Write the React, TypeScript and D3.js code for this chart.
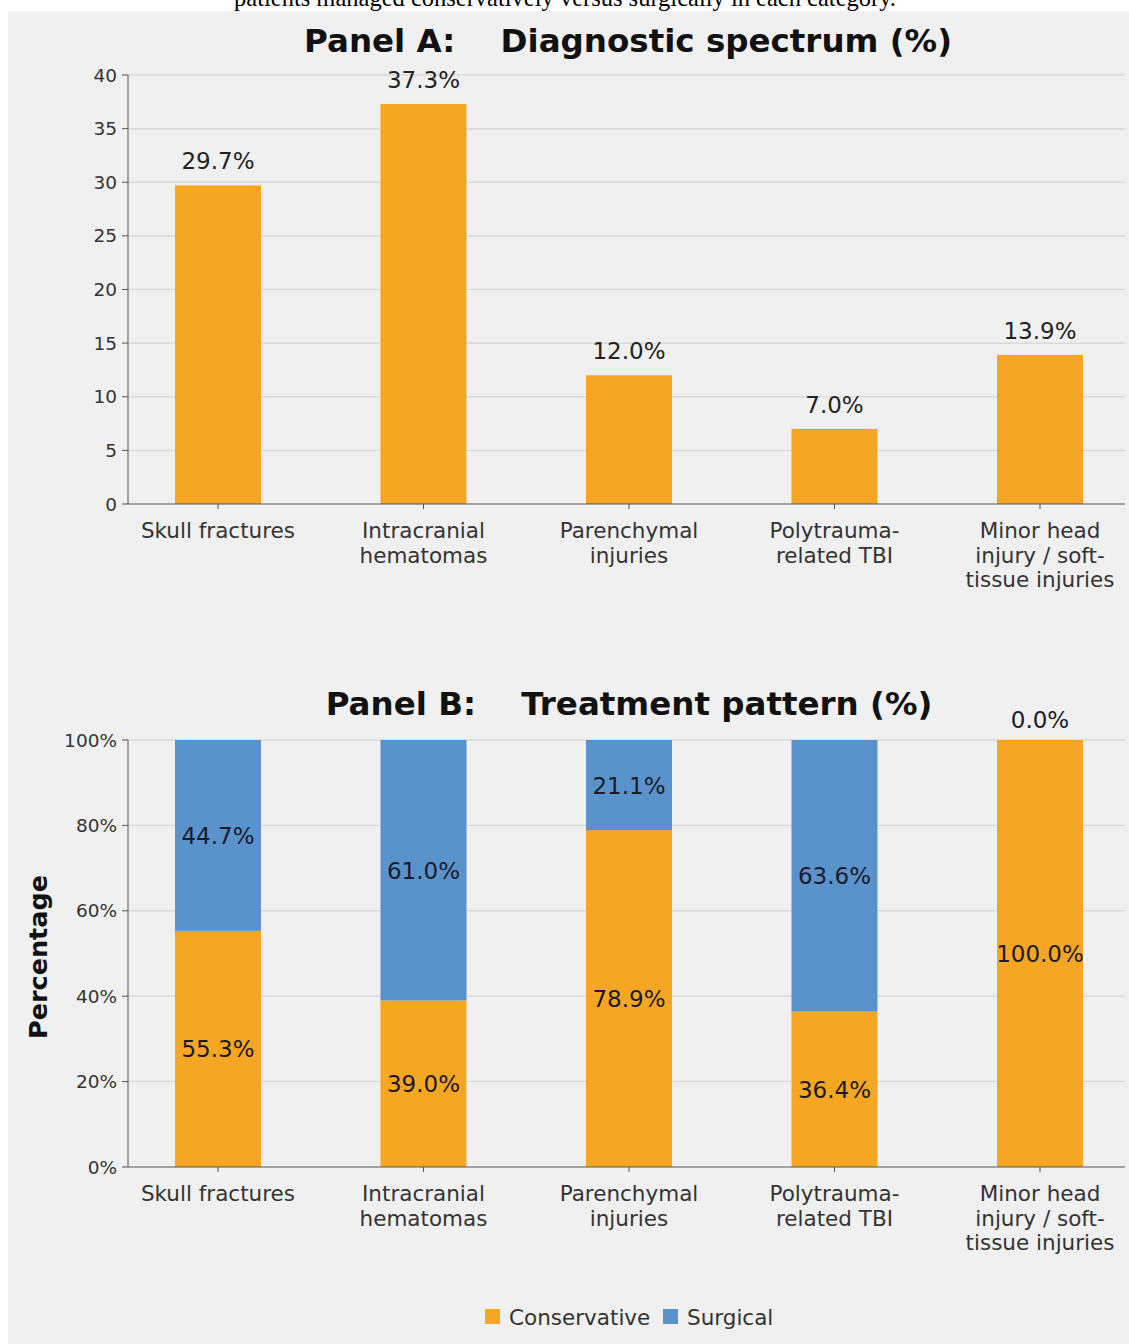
import React from "react";
import * as d3 from "d3";

const categories = [
  ["Skull fractures"],
  ["Intracranial", "hematomas"],
  ["Parenchymal", "injuries"],
  ["Polytrauma-", "related TBI"],
  ["Minor head", "injury / soft-", "tissue injuries"],
];
const catKeys = categories.map((c) => c.join(" "));
const diagnostic = [29.7, 37.3, 12.0, 7.0, 13.9];
const conservative = [55.3, 39.0, 78.9, 36.4, 100.0];
const surgical = [44.7, 61.0, 21.1, 63.6, 0.0];
const ticksA = [0, 5, 10, 15, 20, 25, 30, 35, 40];
const ticksB = [0, 20, 40, 60, 80, 100];

const ORANGE = "#f5a623";
const BLUE = "#5a93cb";
const BG = "#f0f0f0";
const FONT = "DejaVu Sans, sans-serif";

export default function App() {
  const W = 1129, H = 1344;
  const axisX = 128, rightX = 1125;
  const x = d3.scalePoint<string>().domain(catKeys).range([218, 1040]);
  const bw = 86;
  const yA = d3.scaleLinear().domain([0, 40]).range([504, 75]);
  const yB = d3.scaleLinear().domain([0, 100]).range([1167, 740]);
  const valFs = 23;

  const xLabels = (base: number) =>
    categories.map((lines, i) => (
      <g key={i}>
        <line x1={x(catKeys[i])} x2={x(catKeys[i])} y1={base} y2={base + 5} stroke="#555" />
        {lines.map((l, j) => (
          <text key={j} x={x(catKeys[i])} y={base + 34 + j * 24.5} textAnchor="middle" fontSize={21.5} fill="#333">{l}</text>
        ))}
      </g>
    ));

  return (
    <svg width={W} height={H} style={{ position: "absolute", left: 0, top: 0 }} fontFamily={FONT}>
      <rect x={0} y={0} width={W} height={H} fill="#fff" />
      <text x={565} y={6} textAnchor="middle" fontFamily="Liberation Serif, Times New Roman, serif" fontSize={24.5} fill="#000">patients managed conservatively versus surgically in each category.</text>
      <rect x={8} y={11} width={W - 8} height={H - 11} fill={BG} />

      {/* Panel A */}
      <text x={628} y={52} textAnchor="middle" fontSize={32.5} fontWeight="bold" fill="#111" style={{ whiteSpace: "pre" }}>{"Panel A:    Diagnostic spectrum (%)"}</text>
      {ticksA.map((t) => (
        <g key={t}>
          {t > 0 && <line x1={axisX} x2={rightX} y1={yA(t)} y2={yA(t)} stroke="#dadada" strokeWidth={1.5} />}
          <line x1={axisX - 6} x2={axisX} y1={yA(t)} y2={yA(t)} stroke="#555" />
          <text x={axisX - 11} y={yA(t) + 6.5} textAnchor="end" fontSize={18.5} fill="#333">{t}</text>
        </g>
      ))}
      {diagnostic.map((v, i) => (
        <g key={i}>
          <rect x={x(catKeys[i])! - bw / 2} y={yA(v)} width={bw} height={yA(0) - yA(v)} fill={ORANGE} />
          <text x={x(catKeys[i])} y={yA(v) - 16} textAnchor="middle" fontSize={valFs} fill="#222">{v.toFixed(1) + "%"}</text>
        </g>
      ))}
      <line x1={axisX} x2={axisX} y1={yA(40)} y2={yA(0)} stroke="#555" />
      <line x1={axisX} x2={rightX} y1={yA(0)} y2={yA(0)} stroke="#555" />
      {xLabels(504)}

      {/* Panel B */}
      <text x={629} y={715} textAnchor="middle" fontSize={32.5} fontWeight="bold" fill="#111" style={{ whiteSpace: "pre" }}>{"Panel B:    Treatment pattern (%)"}</text>
      {ticksB.map((t) => (
        <g key={t}>
          {t > 0 && <line x1={axisX} x2={rightX} y1={yB(t)} y2={yB(t)} stroke="#dadada" strokeWidth={1.5} />}
          <line x1={axisX - 6} x2={axisX} y1={yB(t)} y2={yB(t)} stroke="#555" />
          <text x={axisX - 11} y={yB(t) + 6.5} textAnchor="end" fontSize={18.5} fill="#333">{t + "%"}</text>
        </g>
      ))}
      {conservative.map((c, i) => {
        const s = surgical[i];
        const cx = x(catKeys[i])!;
        return (
          <g key={i}>
            <rect x={cx - bw / 2} y={yB(c)} width={bw} height={yB(0) - yB(c)} fill={ORANGE} />
            <rect x={cx - bw / 2} y={yB(c + s)} width={bw} height={yB(c) - yB(c + s)} fill={BLUE} />
            <text x={cx} y={yB(c / 2) + 8.5} textAnchor="middle" fontSize={valFs} fill="#1a1a2a">{c.toFixed(1) + "%"}</text>
            <text x={cx} y={s > 0 ? yB(c + s / 2) + 8.5 : yB(100) - 12} textAnchor="middle" fontSize={valFs} fill="#1a1a2a">{s.toFixed(1) + "%"}</text>
          </g>
        );
      })}
      <line x1={axisX} x2={axisX} y1={yB(100)} y2={yB(0)} stroke="#555" />
      <line x1={axisX} x2={rightX} y1={yB(0)} y2={yB(0)} stroke="#555" />
      {xLabels(1167)}
      <text transform={`translate(47,957) rotate(-90)`} textAnchor="middle" fontSize={25.5} fontWeight="bold" fill="#111">Percentage</text>

      {/* Legend */}
      <rect x={485} y={1309} width={15} height={15} fill={ORANGE} />
      <text x={509} y={1325} fontSize={21.5} fill="#333">Conservative</text>
      <rect x={663} y={1309} width={15} height={15} fill={BLUE} />
      <text x={687} y={1325} fontSize={21.5} fill="#333">Surgical</text>
    </svg>
  );
}
